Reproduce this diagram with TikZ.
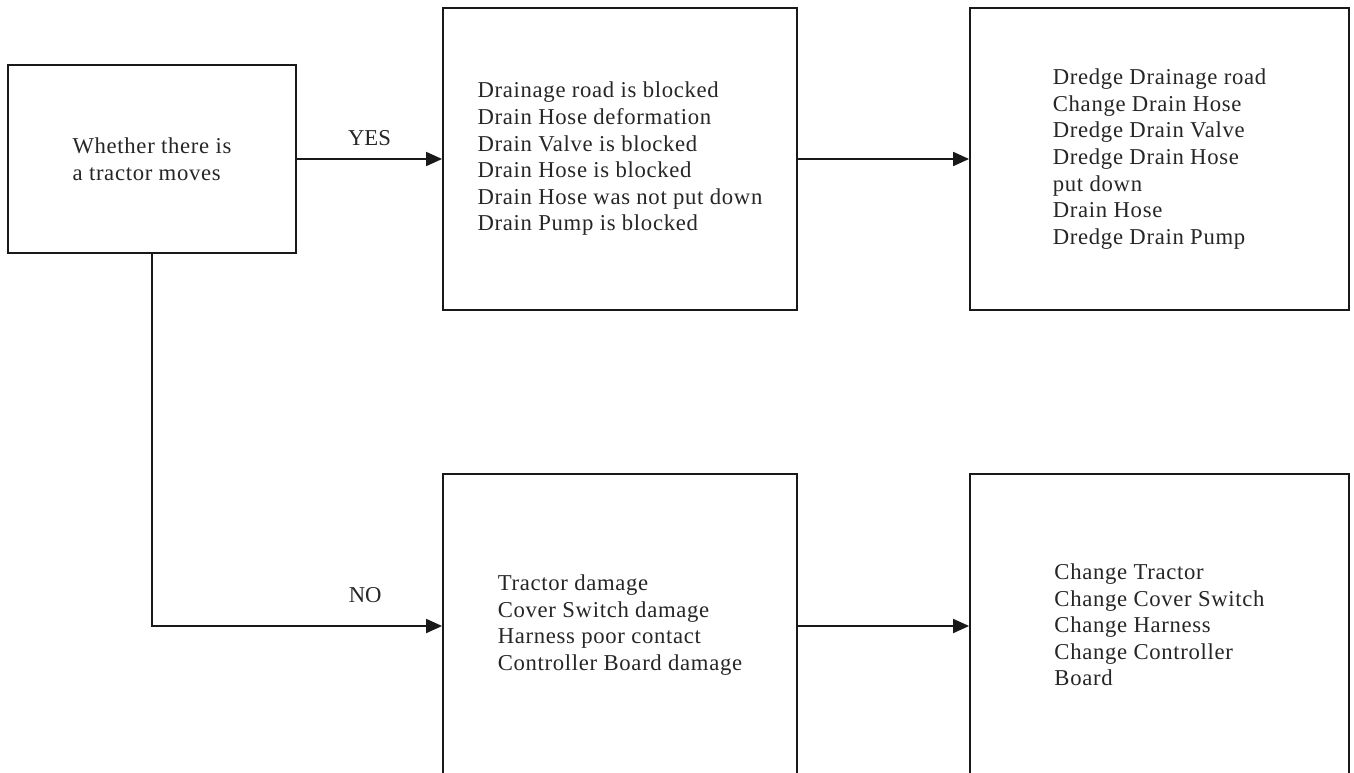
\documentclass[tikz,border=0pt]{standalone}
\usepackage{fontspec}
\setmainfont{Liberation Serif}[LetterSpace=3]
\newfontfamily\lblfont{Liberation Serif}
\usetikzlibrary{arrows.meta}
\begin{document}
\begin{tikzpicture}[x=1pt,y=-1pt,
  box/.style={draw=black!90, line width=1.8pt, rectangle, align=left, inner sep=0pt,
    font=\fontsize{22.7}{26.6}\selectfont, text=black!85},
  conn/.style={line width=1.8pt, draw=black!90, -{Triangle[length=16pt,width=14pt]}},
  lbl/.style={font=\lblfont\fontsize{22.7}{26.6}\selectfont, text=black!85, inner sep=0pt}]
\useasboundingbox[fill=white] (0,0) rectangle (1354,773);
\node[box, minimum width=288pt, minimum height=188pt] (a) at (152,159)
  {Whether there is\\a tractor moves};
\node[box, minimum width=354pt, minimum height=302pt] (b) at (620,159)
  {Drainage road is blocked\\Drain Hose deformation\\Drain Valve is blocked\\Drain Hose is blocked\\Drain Hose was not put down\\Drain Pump is blocked};
\node[box, minimum width=379pt, minimum height=302pt] (c) at (1159.5,159)
  {Dredge Drainage road\\Change Drain Hose\\Dredge Drain Valve\\Dredge Drain Hose\\put down\\Drain Hose\\Dredge Drain Pump};
\node[box, minimum width=354pt, minimum height=302pt] (d) at (620,625)
  {Tractor damage\\Cover Switch damage\\Harness poor contact\\Controller Board damage};
\node[box, minimum width=379pt, minimum height=302pt] (e) at (1159.5,625)
  {Change Tractor\\Change Cover Switch\\Change Harness\\Change Controller\\Board};
\coordinate (corner) at (152,626);
\draw[conn] (a.east) -- (b.west) node[lbl, midway, above=12pt] (yes) {YES};
\draw[conn] (b.east) -- (c.west);
\draw[conn] (a.south) -- (corner) -- (corner -| d.west) node[lbl, pos=0.735, above=22pt] (no) {NO};
\draw[conn] (d.east |- corner) -- (corner -| e.west);
\end{tikzpicture}
\end{document}
